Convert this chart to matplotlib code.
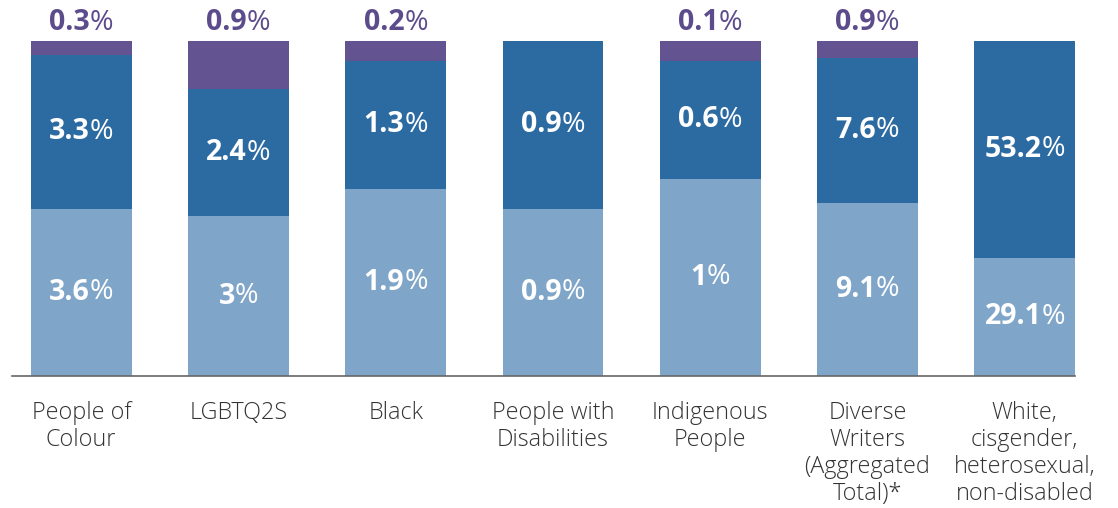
import matplotlib
matplotlib.use('Agg')
import matplotlib.pyplot as plt
import matplotlib.transforms as mtransforms

plt.rcParams['font.family'] = ['Open Sans', 'DejaVu Sans']

# Share of books by group, three stacked parts per group (percent of total)
categories = ['People of\nColour', 'LGBTQ2S', 'Black', 'People with\nDisabilities',
              'Indigenous\nPeople', 'Diverse\nWriters\n(Aggregated\nTotal)*',
              'White,\ncisgender,\nheterosexual,\nnon-disabled']
bottom_vals = [3.6, 3, 1.9, 0.9, 1, 9.1, 29.1]
middle_vals = [3.3, 2.4, 1.3, 0.9, 0.6, 7.6, 53.2]
top_vals = [0.3, 0.9, 0.2, 0, 0.1, 0.9, 0]

light_blue = '#7FA5C8'
dark_blue = '#2C6AA2'
purple = '#635390'
purple_text = '#5C4C8C'

fig = plt.figure(figsize=(11.18, 5.08), dpi=100)
ax = fig.add_axes([12 / 1118, (508 - 376) / 508, (1075 - 12) / 1118, 335 / 508])

x = list(range(len(categories)))
totals = [b + m + t for b, m, t in zip(bottom_vals, middle_vals, top_vals)]
b_frac = [b / s for b, s in zip(bottom_vals, totals)]
m_frac = [m / s for m, s in zip(middle_vals, totals)]
t_frac = [t / s for t, s in zip(top_vals, totals)]

width = 0.64
ax.bar(x, b_frac, width, color=light_blue)
ax.bar(x, m_frac, width, bottom=b_frac, color=dark_blue)
ax.bar(x, t_frac, width, bottom=[b + m for b, m in zip(b_frac, m_frac)], color=purple)

ax.set_xlim(-0.44, 6.32)
ax.set_ylim(0, 1)
for s in ['top', 'right', 'left']:
    ax.spines[s].set_visible(False)
ax.spines['bottom'].set_color('#666666')
ax.spines['bottom'].set_linewidth(1.2)
ax.set_yticks([])
ax.set_xticks(x)
ax.set_xticklabels(categories, fontsize=16.8, color='#333333', linespacing=1.17,
                   fontweight='light')
ax.tick_params(axis='x', length=0, pad=18)

renderer = fig.canvas.get_renderer()


def pct_label(xc, yc, value, color, size=20.5, dy=0):
    # bold number followed by a lighter percent sign, centred as one piece
    num = f'{value:g}'
    t1 = ax.text(xc, yc, num, fontsize=size, fontweight='bold', color=color,
                 ha='left', va='center', clip_on=False)
    t2 = ax.text(xc, yc, '%', fontsize=size, fontweight='normal', color=color,
                 ha='left', va='center', clip_on=False)
    w1 = t1.get_window_extent(renderer).width
    w2 = t2.get_window_extent(renderer).width
    half = (w1 + w2) / 2
    t1.set_transform(mtransforms.offset_copy(ax.transData, fig, x=-half, y=dy, units='dots'))
    t2.set_transform(mtransforms.offset_copy(ax.transData, fig, x=-half + w1, y=dy, units='dots'))


for i in x:
    pct_label(i, b_frac[i] / 2, bottom_vals[i], 'white')
    pct_label(i, b_frac[i] + m_frac[i] / 2, middle_vals[i], 'white')
    if top_vals[i] > 0:
        pct_label(i, 1, top_vals[i], purple_text, dy=18)

fig.savefig('out.png', dpi=100)
